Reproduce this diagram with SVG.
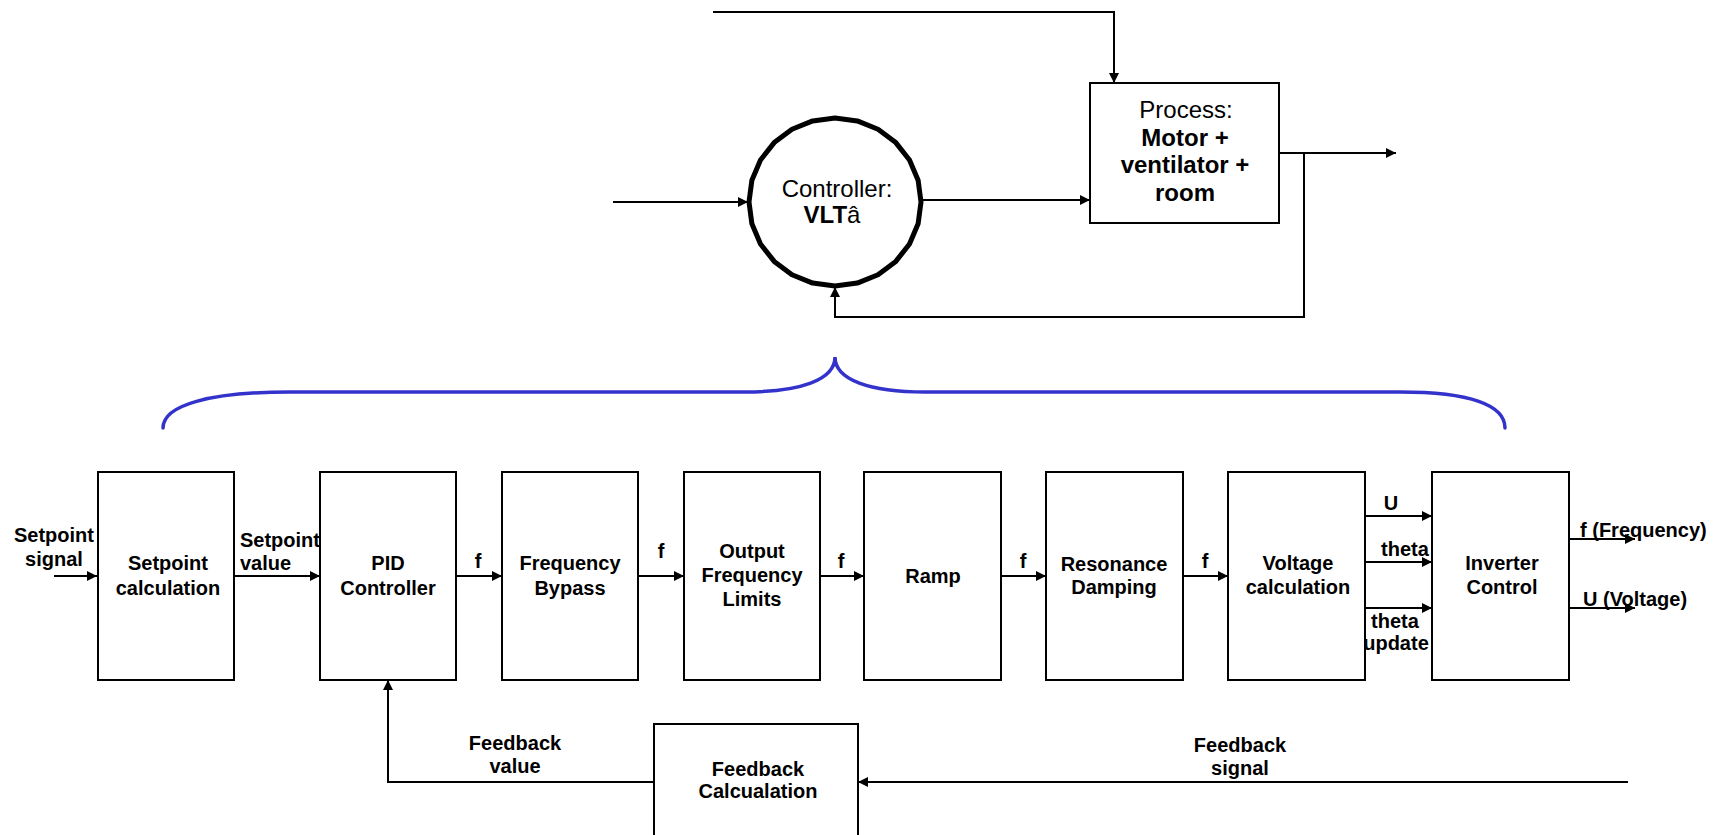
<svg xmlns="http://www.w3.org/2000/svg" width="1722" height="835" viewBox="0 0 1722 835">
<style>
.box{fill:#fff;stroke:#000;stroke-width:2}
.ln{fill:none;stroke:#000;stroke-width:2}
.t{font-family:"Liberation Sans",Arial,sans-serif;font-size:20px;font-weight:bold;fill:#000}
.tt{font-family:"Liberation Sans",Arial,sans-serif;font-size:24px;fill:#000}
.c{text-anchor:middle}
</style>
<defs>
<marker id="arr" markerUnits="userSpaceOnUse" markerWidth="11" markerHeight="11" refX="10" refY="5" orient="auto">
<path d="M0,0 L10,5 L0,10 z" fill="#000"/>
</marker>
</defs>
<rect width="1722" height="835" fill="#fff"/>

<g id="connectors">
<path class="ln" d="M713,12 H1114 V83" marker-end="url(#arr)"/>
<path class="ln" d="M613,202 H748" marker-end="url(#arr)"/>
<path class="ln" d="M921,200 H1090" marker-end="url(#arr)"/>
<path class="ln" d="M1279,153 H1396" marker-end="url(#arr)"/>
<path class="ln" d="M1304,153 V317 H835 V287" marker-end="url(#arr)"/>
<path class="ln" d="M54,576 H97" marker-end="url(#arr)"/>
<path class="ln" d="M234,576 H320" marker-end="url(#arr)"/>
<path class="ln" d="M456,576 H502" marker-end="url(#arr)"/>
<path class="ln" d="M638,576 H684" marker-end="url(#arr)"/>
<path class="ln" d="M820,576 H864" marker-end="url(#arr)"/>
<path class="ln" d="M1001,576 H1046" marker-end="url(#arr)"/>
<path class="ln" d="M1183,576 H1228" marker-end="url(#arr)"/>
<path class="ln" d="M1365,516 H1432" marker-end="url(#arr)"/>
<path class="ln" d="M1365,562 H1432" marker-end="url(#arr)"/>
<path class="ln" d="M1365,608 H1432" marker-end="url(#arr)"/>
<path class="ln" d="M1569,539 H1635" marker-end="url(#arr)"/>
<path class="ln" d="M1569,608 H1635" marker-end="url(#arr)"/>
<path class="ln" d="M1628,782 H858" marker-end="url(#arr)"/>
<path class="ln" d="M654,782 H388 V680" marker-end="url(#arr)"/>
</g>

<g id="brace">
<path d="M163,428 C163,405 210,392 290,392 L745,392 C800,392 835,380 835,357 C835,380 870,392 925,392 L1400,392 C1470,392 1505,405 1505,428" fill="none" stroke="#3333cc" stroke-width="3.5" stroke-linecap="round"/>
</g>

<g id="controller">
<polygon points="921,202 918.1,223.8 909.5,244 895.8,261.4 878,274.7 857.3,283.1 835,286 812.7,283.1 792,274.7 774.2,261.4 760.5,244 751.9,223.8 749,202 751.9,180.2 760.5,160 774.2,142.6 792,129.3 812.7,120.9 835,118 857.3,120.9 878,129.3 895.8,142.6 909.5,160 918.1,180.2" fill="#fff" stroke="#000" stroke-width="5" stroke-linejoin="round"/>
<text class="tt c" x="837" y="197">Controller:</text>
<text class="tt c" x="832" y="223"><tspan font-weight="bold">VLT</tspan>â</text>
</g>

<g id="process">
<rect class="box" x="1090" y="83" width="189" height="140"/>
<text class="tt c" x="1186" y="118">Process:</text>
<text class="tt c" x="1185" y="146" font-weight="bold">Motor +</text>
<text class="tt c" x="1185" y="173" font-weight="bold">ventilator +</text>
<text class="tt c" x="1185" y="201" font-weight="bold">room</text>
</g>

<g id="setpoint-calculation">
<rect class="box" x="98" y="472" width="136" height="208"/>
<text class="t c" x="168" y="570">Setpoint</text>
<text class="t c" x="168" y="595">calculation</text>
</g>
<g id="pid-controller">
<rect class="box" x="320" y="472" width="136" height="208"/>
<text class="t c" x="388" y="570">PID</text>
<text class="t c" x="388" y="595">Controller</text>
</g>
<g id="frequency-bypass">
<rect class="box" x="502" y="472" width="136" height="208"/>
<text class="t c" x="570" y="570">Frequency</text>
<text class="t c" x="570" y="595">Bypass</text>
</g>
<g id="output-frequency-limits">
<rect class="box" x="684" y="472" width="136" height="208"/>
<text class="t c" x="752" y="558">Output</text>
<text class="t c" x="752" y="582">Frequency</text>
<text class="t c" x="752" y="606">Limits</text>
</g>
<g id="ramp">
<rect class="box" x="864" y="472" width="137" height="208"/>
<text class="t c" x="933" y="583">Ramp</text>
</g>
<g id="resonance-damping">
<rect class="box" x="1046" y="472" width="137" height="208"/>
<text class="t c" x="1114" y="571">Resonance</text>
<text class="t c" x="1114" y="594">Damping</text>
</g>
<g id="voltage-calculation">
<rect class="box" x="1228" y="472" width="137" height="208"/>
<text class="t c" x="1298" y="570">Voltage</text>
<text class="t c" x="1298" y="594">calculation</text>
</g>
<g id="inverter-control">
<rect class="box" x="1432" y="472" width="137" height="208"/>
<text class="t c" x="1502" y="570">Inverter</text>
<text class="t c" x="1502" y="594">Control</text>
</g>
<g id="feedback-calculation">
<rect class="box" x="654" y="724" width="204" height="120"/>
<text class="t c" x="758" y="776">Feedback</text>
<text class="t c" x="758" y="798">Calcualation</text>
</g>

<g id="labels">
<text class="t c" x="54" y="542">Setpoint</text>
<text class="t c" x="54" y="566">signal</text>
<text class="t" x="240" y="547">Setpoint</text>
<text class="t" x="240" y="570">value</text>
<text class="t c" x="478" y="568">f</text>
<text class="t c" x="661" y="558">f</text>
<text class="t c" x="841" y="568">f</text>
<text class="t c" x="1023" y="568">f</text>
<text class="t c" x="1205" y="568">f</text>
<text class="t c" x="1391" y="510">U</text>
<text class="t c" x="1405" y="556">theta</text>
<text class="t c" x="1395" y="628">theta</text>
<text class="t c" x="1396" y="650">update</text>
<text class="t" x="1580" y="537">f (Frequency)</text>
<text class="t" x="1583" y="606">U (Voltage)</text>
<text class="t c" x="515" y="750">Feedback</text>
<text class="t c" x="515" y="773">value</text>
<text class="t c" x="1240" y="752">Feedback</text>
<text class="t c" x="1240" y="775">signal</text>
</g>
</svg>
